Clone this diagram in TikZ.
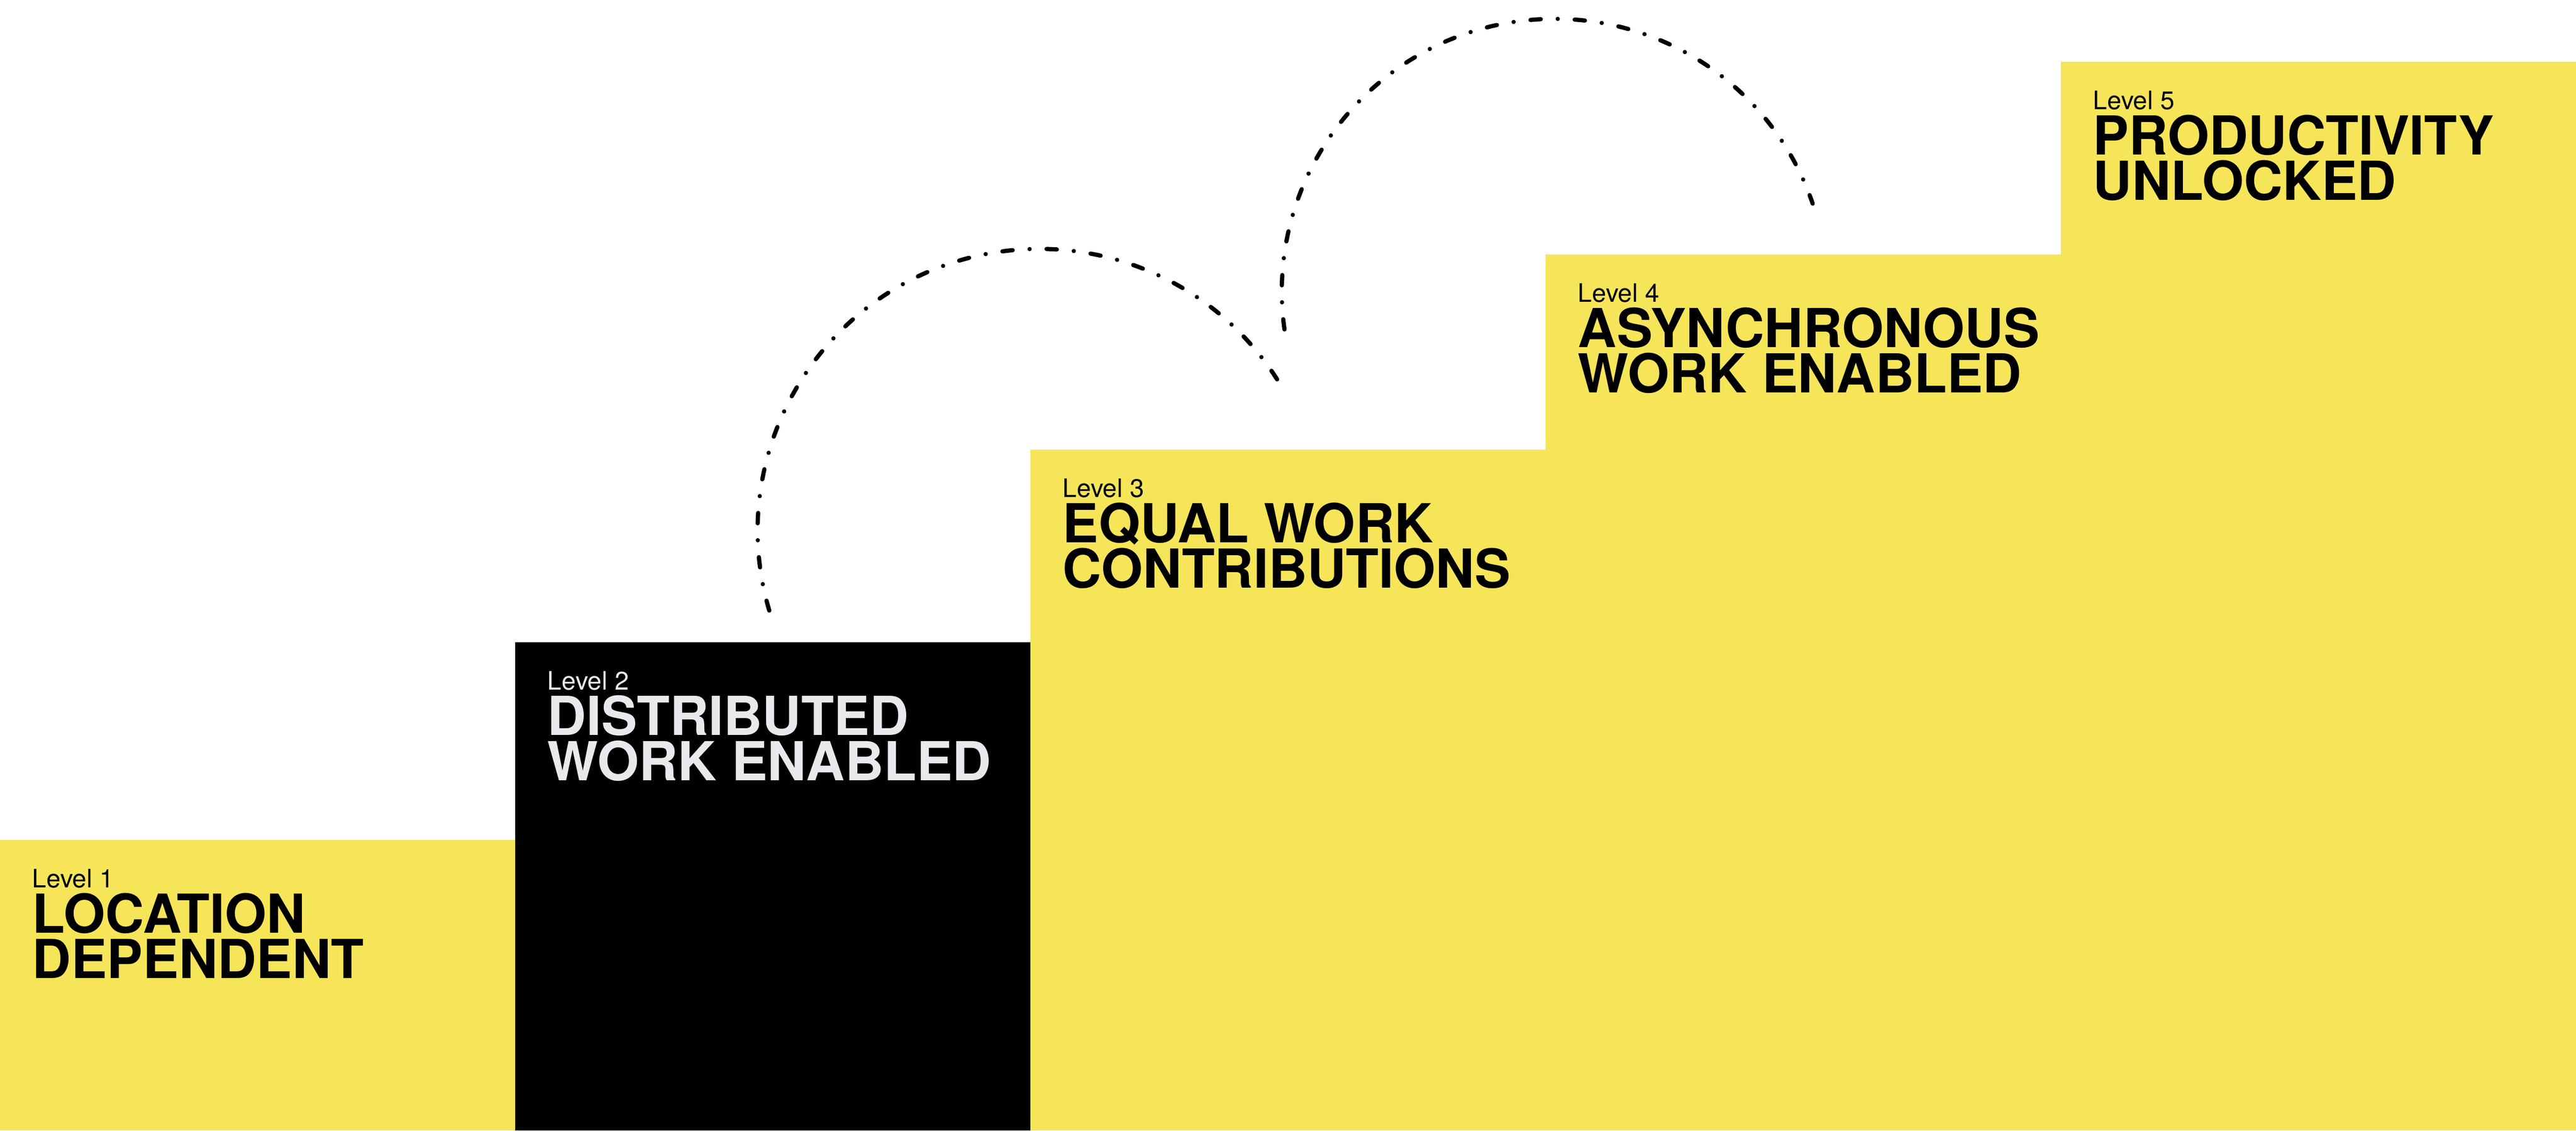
\documentclass[tikz,border=0pt]{standalone}
\usepackage{fontspec}
\setmainfont{TeX Gyre Heros}
\usetikzlibrary{positioning}
\definecolor{stepyellow}{RGB}{246,229,89}
\definecolor{steptext}{RGB}{233,233,237}
\tikzset{
  lvl/.style={inner sep=0, anchor=base west, text height=5.2pt, text depth=0pt, font=\fontsize{7.2}{7.2}\selectfont},
  ttl/.style={inner sep=0, anchor=base west, text height=10.9pt, text depth=0pt, font=\bfseries\fontsize{15.2}{15.2}\selectfont},
  hop/.style={line width=1.2pt, line cap=round, dash pattern=on 2.9pt off 4.8pt on 0.01pt off 4.8pt}
}
\begin{document}
\begin{tikzpicture}[x=0.5cm,y=0.5cm]
\useasboundingbox (0,0) rectangle (51.2,22.48);
% step corners
\coordinate (s1) at (0,5.78);
\coordinate (s2) at (10.24,9.71);
\coordinate (s3) at (20.48,13.54);
\coordinate (s4) at (30.72,17.42);
\coordinate (s5) at (40.96,21.25);
\fill[stepyellow] (s1) rectangle (10.24,0);
\fill[black] (s2) rectangle (20.48,0);
\fill[stepyellow] (s3) rectangle (30.72,0);
\fill[stepyellow] (s4) rectangle (40.96,0);
\fill[stepyellow] (s5) rectangle (51.2,0);

\node[lvl] (l1) at ([shift={(0.63,-0.95)}]s1) {Level 1};
\node[ttl] (t1a) at ([shift={(0,-0.9)}]l1.base west) {LOCATION};
\node[ttl] (t1b) at ([shift={(0,-1.8)}]l1.base west) {DEPENDENT};

\node[lvl,text=steptext] (l2) at ([shift={(0.63,-0.95)}]s2) {Level 2};
\node[ttl,text=steptext] (t2a) at ([shift={(0,-0.9)}]l2.base west) {DISTRIBUTED};
\node[ttl,text=steptext] (t2b) at ([shift={(0,-1.8)}]l2.base west) {WORK ENABLED};

\node[lvl] (l3) at ([shift={(0.63,-0.95)}]s3) {Level 3};
\node[ttl] (t3a) at ([shift={(0,-0.9)}]l3.base west) {EQUAL WORK};
\node[ttl] (t3b) at ([shift={(0,-1.8)}]l3.base west) {CONTRIBUTIONS};

\node[lvl] (l4) at ([shift={(0.63,-0.95)}]s4) {Level 4};
\node[ttl] (t4a) at ([shift={(0,-0.9)}]l4.base west) {ASYNCHRONOUS};
\node[ttl] (t4b) at ([shift={(0,-1.8)}]l4.base west) {WORK ENABLED};

\node[lvl] (l5) at ([shift={(0.63,-0.95)}]s5) {Level 5};
\node[ttl] (t5a) at ([shift={(0,-0.9)}]l5.base west) {PRODUCTIVITY};
\node[ttl] (t5b) at ([shift={(0,-1.8)}]l5.base west) {UNLOCKED};

% hops between steps
\coordinate (h1) at (15.29,10.34);
\coordinate (h2) at (25.53,15.93);
\draw[hop] (h1) arc[start angle=196.5, end angle=32.3, radius=5.6];
\draw[hop] (h2) arc[start angle=188, end angle=18.8, radius=5.42];
\end{tikzpicture}
\end{document}
